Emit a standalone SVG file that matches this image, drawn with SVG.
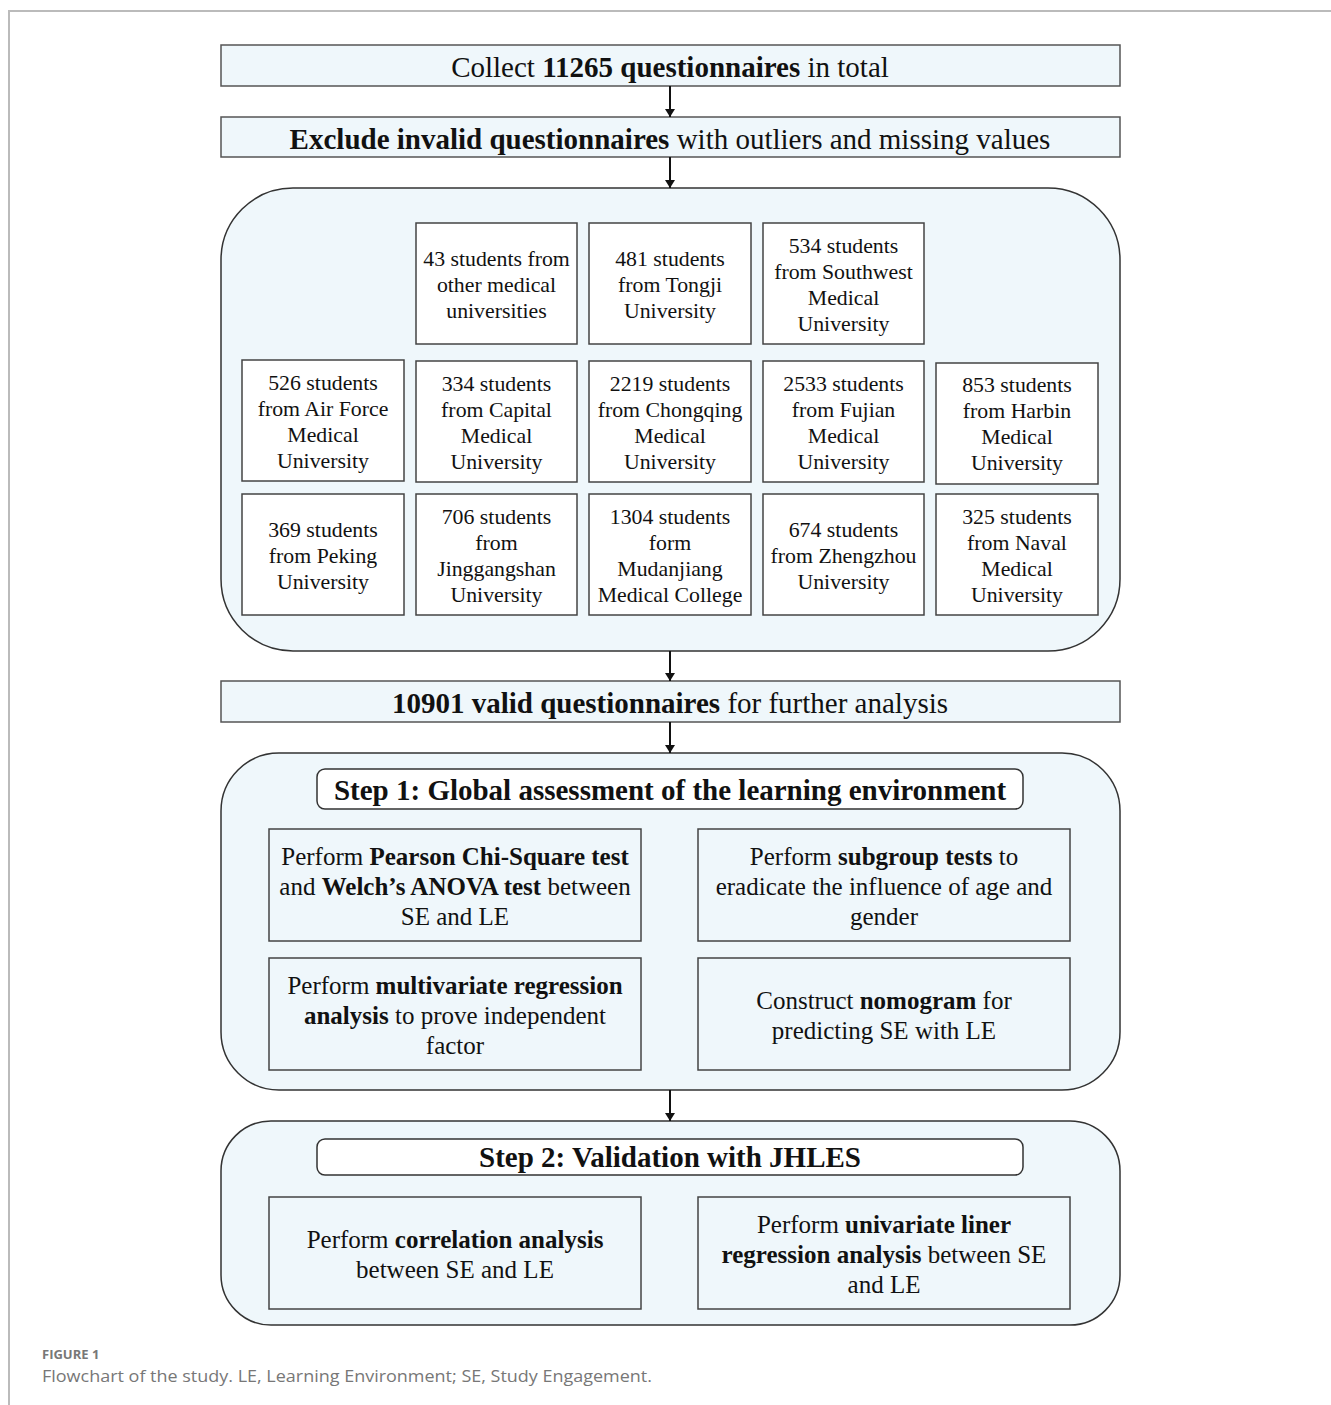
<svg xmlns="http://www.w3.org/2000/svg" width="1331" height="1405" viewBox="0 0 1331 1405">
<defs>
<marker id="ah" markerWidth="8" markerHeight="10" refX="8" refY="5" orient="auto" markerUnits="userSpaceOnUse">
<path d="M0,0 L8,5 L0,10 Z" fill="#111"/>
</marker>
</defs>
<style>
.bar{fill:#eff7fb;stroke:#555;stroke-width:1.5}
.cont{fill:#eff7fb;stroke:#333;stroke-width:1.5}
.sb{fill:#fff;stroke:#444;stroke-width:1.5}
.ib{fill:#eff7fb;stroke:#444;stroke-width:1.5}
.tb{fill:#fff;stroke:#333;stroke-width:1.5}
text{font-family:"Liberation Serif","Times New Roman",serif;fill:#111;text-anchor:middle}
.big{font-size:29px}
.sm{font-size:21.8px}
.md{font-size:25px}
.b{font-weight:bold}
.conn line{stroke:#111;stroke-width:2}
.cap{font-family:"Open Sans","Noto Sans",sans-serif;fill:#777;text-anchor:start}
</style>
<rect width="1331" height="1405" fill="#fff"/>
<path d="M9,1405 L9,11 L1331,11" fill="none" stroke="#bbb" stroke-width="2"/>

<g id="n-collect">
<rect class="bar" x="221" y="45" width="899" height="41"/>
<text class="big" x="670" y="77">Collect <tspan class="b">11265 questionnaires</tspan> in total</text>
</g>
<g id="n-exclude">
<rect class="bar" x="221" y="117" width="899" height="40"/>
<text class="big" x="670" y="149"><tspan class="b">Exclude invalid questionnaires</tspan> with outliers and missing values</text>
</g>

<g id="n-universities">
<rect class="cont" x="221" y="188" width="899" height="463" rx="72" ry="72"/>
<g id="u-other"><rect class="sb" x="416" y="223" width="161" height="121"/>
<text class="sm" x="496.5" y="266">43 students from</text><text class="sm" x="496.5" y="292">other medical</text><text class="sm" x="496.5" y="318">universities</text></g>
<g id="u-tongji"><rect class="sb" x="589" y="223" width="162" height="121"/>
<text class="sm" x="670" y="266">481 students</text><text class="sm" x="670" y="292">from Tongji</text><text class="sm" x="670" y="318">University</text></g>
<g id="u-southwest"><rect class="sb" x="763" y="223" width="161" height="121"/>
<text class="sm" x="843.5" y="253">534 students</text><text class="sm" x="843.5" y="279">from Southwest</text><text class="sm" x="843.5" y="305">Medical</text><text class="sm" x="843.5" y="331">University</text></g>

<g id="u-airforce"><rect class="sb" x="242" y="360" width="162" height="121"/>
<text class="sm" x="323" y="390">526 students</text><text class="sm" x="323" y="416">from Air Force</text><text class="sm" x="323" y="442">Medical</text><text class="sm" x="323" y="468">University</text></g>
<g id="u-capital"><rect class="sb" x="416" y="361" width="161" height="121"/>
<text class="sm" x="496.5" y="391">334 students</text><text class="sm" x="496.5" y="417">from Capital</text><text class="sm" x="496.5" y="443">Medical</text><text class="sm" x="496.5" y="469">University</text></g>
<g id="u-chongqing"><rect class="sb" x="589" y="361" width="162" height="121"/>
<text class="sm" x="670" y="391">2219 students</text><text class="sm" x="670" y="417">from Chongqing</text><text class="sm" x="670" y="443">Medical</text><text class="sm" x="670" y="469">University</text></g>
<g id="u-fujian"><rect class="sb" x="763" y="361" width="161" height="121"/>
<text class="sm" x="843.5" y="391">2533 students</text><text class="sm" x="843.5" y="417">from Fujian</text><text class="sm" x="843.5" y="443">Medical</text><text class="sm" x="843.5" y="469">University</text></g>
<g id="u-harbin"><rect class="sb" x="936" y="363" width="162" height="121"/>
<text class="sm" x="1017" y="392">853 students</text><text class="sm" x="1017" y="418">from Harbin</text><text class="sm" x="1017" y="444">Medical</text><text class="sm" x="1017" y="470">University</text></g>

<g id="u-peking"><rect class="sb" x="242" y="494" width="162" height="121"/>
<text class="sm" x="323" y="537">369 students</text><text class="sm" x="323" y="563">from Peking</text><text class="sm" x="323" y="589">University</text></g>
<g id="u-jinggangshan"><rect class="sb" x="416" y="494" width="161" height="121"/>
<text class="sm" x="496.5" y="524">706 students</text><text class="sm" x="496.5" y="550">from</text><text class="sm" x="496.5" y="576">Jinggangshan</text><text class="sm" x="496.5" y="602">University</text></g>
<g id="u-mudanjiang"><rect class="sb" x="589" y="494" width="162" height="121"/>
<text class="sm" x="670" y="524">1304 students</text><text class="sm" x="670" y="550">form</text><text class="sm" x="670" y="576">Mudanjiang</text><text class="sm" x="670" y="602">Medical College</text></g>
<g id="u-zhengzhou"><rect class="sb" x="763" y="494" width="161" height="121"/>
<text class="sm" x="843.5" y="537">674 students</text><text class="sm" x="843.5" y="563">from Zhengzhou</text><text class="sm" x="843.5" y="589">University</text></g>
<g id="u-naval"><rect class="sb" x="936" y="494" width="162" height="121"/>
<text class="sm" x="1017" y="524">325 students</text><text class="sm" x="1017" y="550">from Naval</text><text class="sm" x="1017" y="576">Medical</text><text class="sm" x="1017" y="602">University</text></g>
</g>

<g id="n-valid">
<rect class="bar" x="221" y="681" width="899" height="41"/>
<text class="big" x="670" y="713"><tspan class="b">10901 valid questionnaires</tspan> for further analysis</text>
</g>

<g id="n-step1">
<rect class="cont" x="221" y="753" width="899" height="337" rx="58" ry="58"/>
<rect class="tb" x="317" y="769" width="706" height="40" rx="8" ry="8"/>
<text class="big b" x="670" y="800">Step 1: Global assessment of the learning environment</text>
<g id="s1-chi"><rect class="ib" x="269" y="829" width="372" height="112"/>
<text class="md" x="455" y="865">Perform <tspan class="b">Pearson Chi-Square test</tspan></text>
<text class="md" x="455" y="895">and <tspan class="b">Welch’s ANOVA test</tspan> between</text>
<text class="md" x="455" y="925">SE and LE</text></g>
<g id="s1-subgroup"><rect class="ib" x="698" y="829" width="372" height="112"/>
<text class="md" x="884" y="865">Perform <tspan class="b">subgroup tests</tspan> to</text>
<text class="md" x="884" y="895">eradicate the influence of age and</text>
<text class="md" x="884" y="925">gender</text></g>
<g id="s1-multi"><rect class="ib" x="269" y="958" width="372" height="112"/>
<text class="md" x="455" y="994">Perform <tspan class="b">multivariate regression</tspan></text>
<text class="md" x="455" y="1024"><tspan class="b">analysis</tspan> to prove independent</text>
<text class="md" x="455" y="1054">factor</text></g>
<g id="s1-nomogram"><rect class="ib" x="698" y="958" width="372" height="112"/>
<text class="md" x="884" y="1009">Construct <tspan class="b">nomogram</tspan> for</text>
<text class="md" x="884" y="1039">predicting SE with LE</text></g>
</g>

<g id="n-step2">
<rect class="cont" x="221" y="1121" width="899" height="204" rx="50" ry="50"/>
<rect class="tb" x="317" y="1139" width="706" height="36" rx="8" ry="8"/>
<text class="big b" x="670" y="1167">Step 2: Validation with JHLES</text>
<g id="s2-corr"><rect class="ib" x="269" y="1197" width="372" height="112"/>
<text class="md" x="455" y="1248">Perform <tspan class="b">correlation analysis</tspan></text>
<text class="md" x="455" y="1278">between SE and LE</text></g>
<g id="s2-reg"><rect class="ib" x="698" y="1197" width="372" height="112"/>
<text class="md" x="884" y="1233">Perform <tspan class="b">univariate liner</tspan></text>
<text class="md" x="884" y="1263"><tspan class="b">regression analysis</tspan> between SE</text>
<text class="md" x="884" y="1293">and LE</text></g>
</g>

<g id="connectors" class="conn">
<line x1="670" y1="86" x2="670" y2="117" marker-end="url(#ah)"/>
<line x1="670" y1="157" x2="670" y2="188" marker-end="url(#ah)"/>
<line x1="670" y1="651" x2="670" y2="681" marker-end="url(#ah)"/>
<line x1="670" y1="722" x2="670" y2="753" marker-end="url(#ah)"/>
<line x1="670" y1="1090" x2="670" y2="1121" marker-end="url(#ah)"/>
</g>

<g id="caption">
<text class="cap" x="42" y="1359" font-size="13" font-weight="bold">FIGURE 1</text>
<text class="cap" x="42" y="1382" font-size="17" textLength="610" lengthAdjust="spacingAndGlyphs">Flowchart of the study. LE, Learning Environment; SE, Study Engagement.</text>
</g>
</svg>
